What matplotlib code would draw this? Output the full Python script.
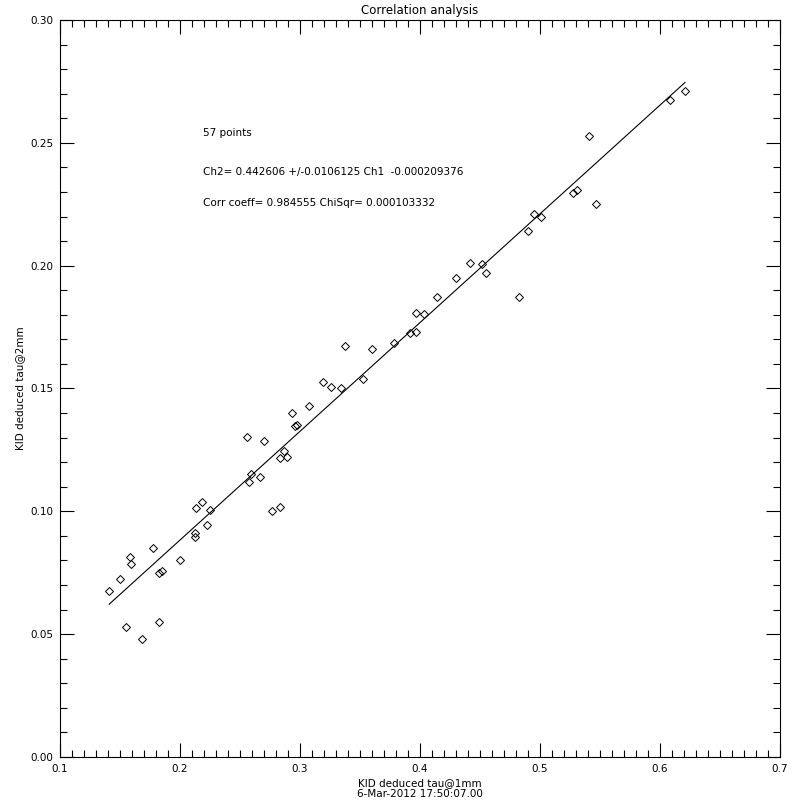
import numpy as np
import matplotlib
matplotlib.use("Agg")
import matplotlib.pyplot as plt
from matplotlib.ticker import MultipleLocator

# KID deduced opacities
tau_1mm = [0.141, 0.150, 0.1547, 0.1583, 0.159, 0.1686, 0.1778, 0.1825, 0.1847, 0.1828,
           0.2003, 0.2133, 0.2186, 0.225, 0.2228, 0.2128, 0.2128, 0.2561, 0.270, 0.2592,
           0.2578, 0.267, 0.2767, 0.2833, 0.2833, 0.2894, 0.2864, 0.2936, 0.2958, 0.2975,
           0.3078, 0.3194, 0.3258, 0.3344, 0.3378, 0.3522, 0.3603, 0.3786, 0.3917, 0.3964,
           0.3967, 0.4036, 0.4144, 0.4303, 0.4417, 0.452, 0.4553, 0.4828, 0.49, 0.4953,
           0.5006, 0.5275, 0.5308, 0.5411, 0.5469, 0.6083, 0.6208]
tau_2mm = [0.0676, 0.0723, 0.0528, 0.0815, 0.0784, 0.0480, 0.0851, 0.0748, 0.0757, 0.0548,
           0.0800, 0.1012, 0.1038, 0.1005, 0.0943, 0.0913, 0.0897, 0.1301, 0.1285, 0.1152,
           0.1121, 0.1138, 0.1000, 0.1018, 0.1216, 0.1223, 0.1247, 0.1399, 0.1349, 0.1352,
           0.1429, 0.1526, 0.1506, 0.1501, 0.1675, 0.1537, 0.1659, 0.1684, 0.1725, 0.1732,
           0.1806, 0.1802, 0.1872, 0.1948, 0.2011, 0.2007, 0.1972, 0.1871, 0.2140, 0.2209,
           0.2200, 0.2296, 0.2308, 0.2526, 0.2249, 0.2673, 0.2713]

# fit results as printed on the plot
slope = 0.442606
slope_err = 0.0106125
offset = -0.000209376
corr = 0.984555
chisqr = 0.000103332
stamp = "6-Mar-2012 17:50:07.00"

x = np.array(tau_1mm)
y = np.array(tau_2mm)

fig = plt.figure(figsize=(8, 8), dpi=100)
ax = fig.add_axes([0.075, 0.05375, 0.9, 0.92125])

ax.plot(x, y, linestyle="none", marker="D", markersize=4.2,
        markerfacecolor="none", markeredgecolor="black", markeredgewidth=0.7)
xf = np.array([x.min(), x.max()])
ax.plot(xf, slope * xf + offset, color="black", linewidth=0.8)

ax.set_xlim(0.1, 0.7)
ax.set_ylim(0.0, 0.30)
ax.xaxis.set_major_locator(MultipleLocator(0.1))
ax.xaxis.set_minor_locator(MultipleLocator(0.01))
ax.yaxis.set_major_locator(MultipleLocator(0.05))
ax.yaxis.set_minor_locator(MultipleLocator(0.01))
ax.xaxis.set_major_formatter(plt.FuncFormatter(lambda v, p: f"{v:.1f}"))
ax.yaxis.set_major_formatter(plt.FuncFormatter(lambda v, p: f"{v:.2f}"))
ax.tick_params(which="both", direction="in", top=True, right=True,
               width=0.8, labelsize=7.5, pad=5)
ax.tick_params(which="major", length=10)
ax.tick_params(which="minor", length=5)
for s in ax.spines.values():
    s.set_linewidth(0.8)

ax.set_title("Correlation analysis", fontsize=8.5, pad=4)
ax.set_xlabel(f"KID deduced tau@1mm\n{stamp}", fontsize=7.5, labelpad=3,
              linespacing=1.1)
ax.set_ylabel("KID deduced tau@2mm", fontsize=7.5)
ax.yaxis.set_label_coords(-0.048, 0.5)

txt = dict(fontsize=7.5, ha="left", va="center")
ax.text(0.219, 0.254, f"{len(x)} points", **txt)
ax.text(0.219, 0.238, f"Ch2= {slope} +/-{slope_err} Ch1  {offset}", **txt)
ax.text(0.219, 0.2255, f"Corr coeff= {corr} ChiSqr= {chisqr}", **txt)

fig.savefig("out.png", dpi=100)
